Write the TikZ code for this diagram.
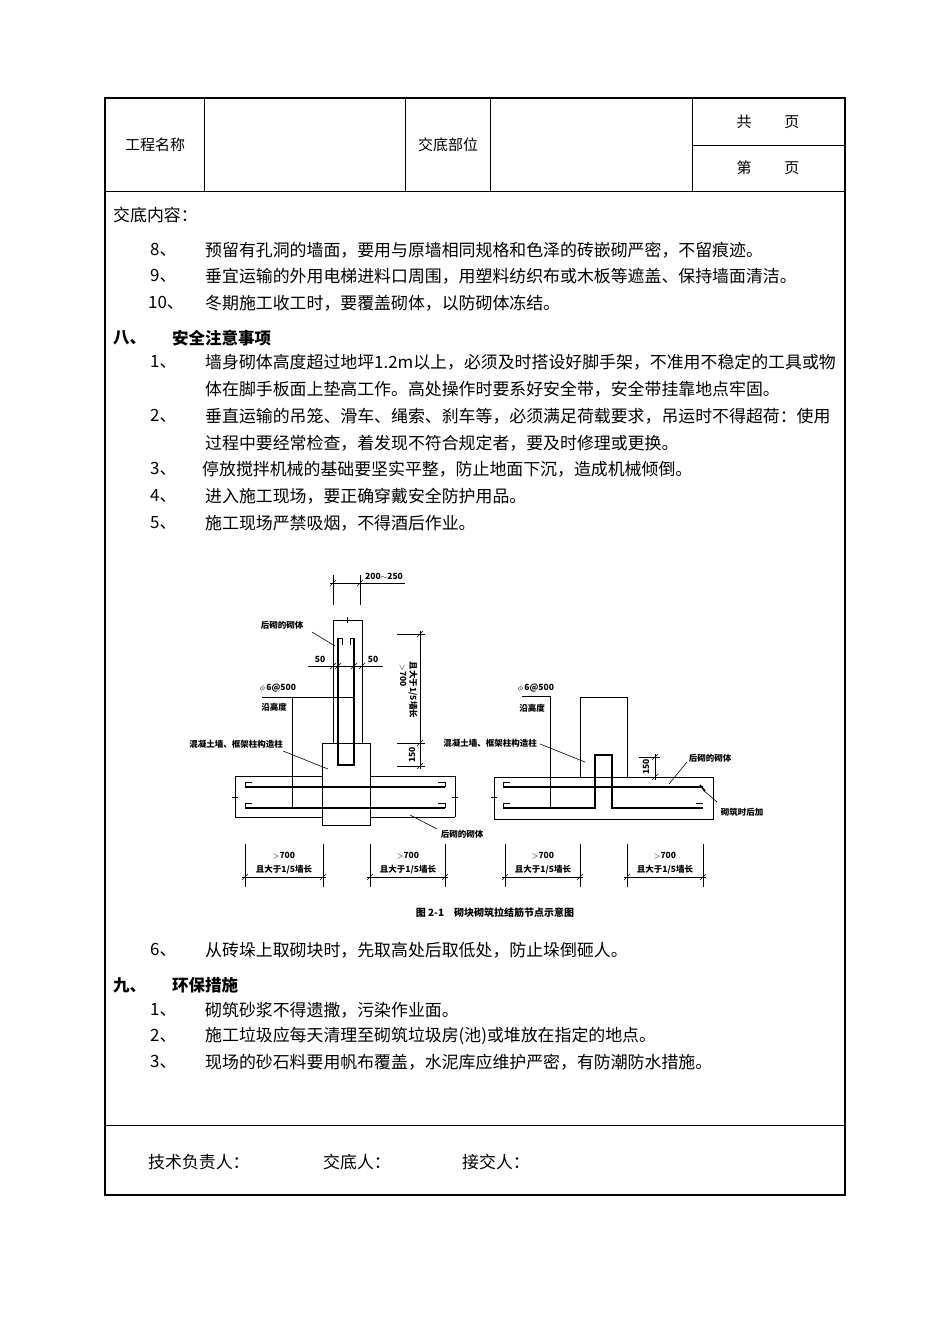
\documentclass[tikz,border=0pt]{standalone}
\usepackage{fontspec}
\setmainfont{Noto Sans CJK SC}
\usetikzlibrary{positioning,calc}
\tikzset{
  txt/.style={anchor=west, inner sep=0pt, font=\fontsize{16.9}{18}\selectfont},
  head/.style={anchor=west, inner sep=0pt, font=\fontsize{16.5}{18}\selectfont\bfseries},
  cell/.style={inner sep=0pt, font=\fontsize{15}{17}\selectfont},
  lbl/.style={inner sep=0pt, font=\fontsize{8.5}{9}\selectfont\bfseries},
  bar/.style={line width=1.6pt},
  thin/.style={line width=0.6pt},
}
\begin{document}
\begin{tikzpicture}[x=1pt,y=-1pt]
    \useasboundingbox (0,0) rectangle (950,1344);
    % Table frame
    \draw[line width=1.2pt] (105,98) rectangle (845,1195);
    \draw[line width=0.6pt] (105,191) -- (845,191);
    \draw[line width=0.6pt] (105,1125) -- (845,1125);
    \foreach \xx in {204,405,490,692} \draw[line width=0.6pt] (\xx,98) -- (\xx,191);
    \draw[line width=0.6pt] (692,145) -- (845,145);
    \node[cell] (proj) at (155,145) {工程名称};
    \node[cell] (part) at (448,145) {交底部位};
    \node[cell] (total) at (768,122) {共\hspace{2.2em}页};
    \node[cell] (page) at (768,168) {第\hspace{2.2em}页};

    % Content
    \node[txt] (content) at (113,215) {交底内容：};
    \node[txt] (n8) at (150,250) {8、};
    \node[txt] (t8) at (205,250) {预留有孔洞的墙面，要用与原墙相同规格和色泽的砖嵌砌严密，不留痕迹。};
    \node[txt] (n9) at (150,276) {9、};
    \node[txt] (t9) at (205,276) {垂宜运输的外用电梯进料口周围，用塑料纺织布或木板等遮盖、保持墙面清洁。};
    \node[txt] (n10) at (148,303) {10、};
    \node[txt] (t10) at (205,303) {冬期施工收工时，要覆盖砌体，以防砌体冻结。};

    \node[head] (s8) at (113,338) {八、};
    \node[head] (s8t) at (172,338) {安全注意事项};
    \node[txt] (a1) at (150,362) {1、};
    \node[txt] (a1t) at (205,362) {墙身砌体高度超过地坪1.2m以上，必须及时搭设好脚手架，不准用不稳定的工具或物};
    \node[txt] (a1u) at (205,389) {体在脚手板面上垫高工作。高处操作时要系好安全带，安全带挂靠地点牢固。};
    \node[txt] (a2) at (150,416) {2、};
    \node[txt] (a2t) at (205,416) {垂直运输的吊笼、滑车、绳索、刹车等，必须满足荷载要求，吊运时不得超荷：使用};
    \node[txt] (a2u) at (205,443) {过程中要经常检查，着发现不符合规定者，要及时修理或更换。};
    \node[txt] (a3) at (150,469) {3、};
    \node[txt] (a3t) at (202,469) {停放搅拌机械的基础要坚实平整，防止地面下沉，造成机械倾倒。};
    \node[txt] (a4) at (150,496) {4、};
    \node[txt] (a4t) at (205,496) {进入施工现场，要正确穿戴安全防护用品。};
    \node[txt] (a5) at (150,523) {5、};
    \node[txt] (a5t) at (205,523) {施工现场严禁吸烟，不得酒后作业。};

    % Figure, left part
    \draw[thin] (333,575) -- (333,605) (360,575) -- (360,605);
    \draw[thin] (330,583) -- (405,583);
    \draw[thin] (330,586) -- (336,580) (357,586) -- (363,580);
    \node[lbl, anchor=west] (w1) at (365,576) {200$\sim$250};
    \draw[thin] (333,743) -- (333,620) -- (362,620) -- (362,743);
    \draw[thin] (347,617) -- (347,623);
    \draw[bar] (338,638) -- (338,765) -- (354,765) -- (354,638);
    \draw[thin] (338,638) -- (342,638) -- (342,645) (354,638) -- (350,638) -- (350,645);
    \node[lbl] (l1) at (282,625) {后砌的砌体};
    \draw[thin] (312,632) -- (335,646);
    \draw[thin] (308,666) -- (383,666);
    \foreach \xx in {333,338,354,362} \draw[thin] (\xx-3,669) -- (\xx+3,663);
    \node[lbl] (f50a) at (320,659) {50};
    \node[lbl] (f50b) at (373,659) {50};
    \node[lbl] (phi1) at (278,688) {$\phi$\,6@500};
    \node[lbl] (h1) at (274,707) {沿高度};
    \draw[thin] (262,697) -- (353,697);
    \draw[thin] (292,697) -- (292,808);
    \draw[thin] (322,743) rectangle (370,825);
    \draw[thin] (235,776) -- (322,776) (370,776) -- (455,776);
    \draw[thin] (235,817) -- (322,817) (370,817) -- (455,817);
    \draw[thin] (235,776) -- (235,817) (455,776) -- (455,817);
    \draw[bar] (245,787) -- (445,787) (245,808) -- (445,808);
    \draw[thin] (245,787) -- (245,782) -- (252,782) (445,787) -- (445,782) -- (438,782);
    \draw[thin] (245,808) -- (245,803) -- (252,803) (445,808) -- (445,803) -- (438,803);
    \draw[thin] (232,797) -- (238,797) (452,797) -- (458,797);
    \node[lbl] (c1) at (236,744) {混凝土墙、框架柱构造柱};
    \draw[thin] (283,751) -- (328,769);
    \node[lbl] (l2) at (462,834) {后砌的砌体};
    \draw[thin] (410,815) -- (437,829);
    % vertical dims
    \draw[thin] (397,634) -- (425,634) (397,743) -- (425,743) (397,766) -- (425,766);
    \draw[thin] (420,631) -- (420,769);
    \foreach \yy in {634,743,766} \draw[thin] (417,\yy+3) -- (423,\yy-3);
    \node[lbl, rotate=-90] (d1) at (403,676) {$>$700};
    \node[lbl, rotate=-90] (d1b) at (413,690) {且大于1/5墙长};
    \node[lbl, rotate=90] (d150) at (412,755) {150};
    % bottom dims
    \foreach \xa/\xb in {245/323, 370/445, 505/580, 627/703} {
      \draw[thin] (\xa,844) -- (\xa,887) (\xb,844) -- (\xb,887);
      \draw[thin] (\xa-3,877) -- (\xb+3,877);
      \draw[thin] (\xa-3,880) -- (\xa+3,874) (\xb-3,880) -- (\xb+3,874);
    }
    \node[lbl] (g1) at (284,856) {$>$700};
    \node[lbl] (g1b) at (284,870) {且大于1/5墙长};
    \node[lbl] (g2) at (408,856) {$>$700};
    \node[lbl] (g2b) at (408,870) {且大于1/5墙长};
    \node[lbl] (g3) at (543,856) {$>$700};
    \node[lbl] (g3b) at (543,870) {且大于1/5墙长};
    \node[lbl] (g4) at (665,856) {$>$700};
    \node[lbl] (g4b) at (665,870) {且大于1/5墙长};

    % Figure, right part
    \node[lbl] (phi2) at (536,688) {$\phi$\,6@500};
    \node[lbl] (h2) at (532,708) {沿高度};
    \draw[thin] (522,696) -- (550,696) -- (550,808);
    \draw[thin] (580,777) -- (580,697) -- (627,697) -- (627,777);
    \draw[thin] (494,777) -- (713,777) -- (713,819) -- (494,819) -- cycle;
    \draw[bar] (503,787) -- (703,787);
    \draw[bar] (503,808) -- (595,808) -- (595,755) -- (612,755) -- (612,808) -- (703,808);
    \draw[thin] (503,787) -- (503,782) -- (510,782) (503,808) -- (503,803) -- (510,803);
    \draw[thin] (703,803) -- (696,803);
    \draw[bar] (700,785) -- (705,791);
    \draw[thin] (491,797) -- (497,797);
    \node[lbl] (c2) at (490,743) {混凝土墙、框架柱构造柱};
    \draw[thin] (540,744) -- (585,762);
    \draw[thin] (639,757) -- (660,757);
    \draw[thin] (655,754) -- (655,780);
    \draw[thin] (652,760) -- (658,754) (652,780) -- (658,774);
    \node[lbl, rotate=90] (d150b) at (646,767) {150};
    \node[lbl] (l3) at (710,758) {后砌的砌体};
    \draw[thin] (687,762) -- (669,784);
    \node[lbl] (add) at (742,812) {砌筑时后加};
    \draw[thin] (703,790) -- (717,802);
    \node[lbl, font=\fontsize{10}{11}\selectfont\bfseries] (cap) at (495,913) {图 2-1\quad 砌块砌筑拉结筋节点示意图};

    % After figure
    \node[txt] (a6) at (150,950) {6、};
    \node[txt] (a6t) at (205,950) {从砖垛上取砌块时，先取高处后取低处，防止垛倒砸人。};
    \node[head] (s9) at (113,985) {九、};
    \node[head] (s9t) at (172,985) {环保措施};
    \node[txt] (b1) at (150,1010) {1、};
    \node[txt] (b1t) at (205,1010) {砌筑砂浆不得遗撒，污染作业面。};
    \node[txt] (b2) at (150,1036) {2、};
    \node[txt] (b2t) at (205,1036) {施工垃圾应每天清理至砌筑垃圾房(池)或堆放在指定的地点。};
    \node[txt] (b3) at (150,1062) {3、};
    \node[txt] (b3t) at (205,1062) {现场的砂石料要用帆布覆盖，水泥库应维护严密，有防潮防水措施。};

    % Signatures
    \node[txt] (sig1) at (148,1162) {技术负责人：};
    \node[txt] (sig2) at (323,1162) {交底人：};
    \node[txt] (sig3) at (462,1162) {接交人：};
\end{tikzpicture}
\end{document}
